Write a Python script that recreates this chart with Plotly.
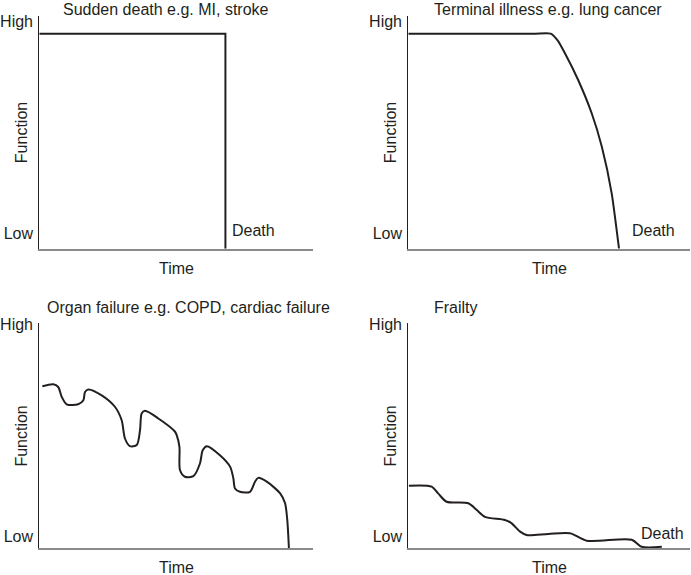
import plotly.graph_objects as go

# panel titles and labels
titles = ["Sudden death e.g. MI, stroke", "Terminal illness e.g. lung cancer",
          "Organ failure e.g. COPD, cardiac failure", "Frailty"]
tick_text = ["Low", "High"]
x_title = "Time"
y_title = "Function"
end_label = "Death"

# trajectories, x = time (0..1), y = function (0..1)
sudden_x = [0.0, 0.68, 0.68]
sudden_y = [0.924, 0.924, 0.0]

terminal_x = [0.0, 0.45, 0.5055, 0.530, 0.556, 0.603, 0.651, 0.687, 0.722, 0.748]
terminal_y = [0.924, 0.924, 0.924, 0.895, 0.840, 0.725, 0.582, 0.438, 0.238, 0.0]

organ_x = [0.011, 0.051, 0.069, 0.082, 0.100, 0.142, 0.161, 0.167, 0.179, 0.228,
           0.277, 0.301, 0.313, 0.331, 0.356, 0.368, 0.374, 0.386, 0.435, 0.496,
           0.502, 0.512, 0.514, 0.532, 0.563, 0.587, 0.597, 0.612, 0.660, 0.697,
           0.709, 0.715, 0.733, 0.770, 0.788, 0.800, 0.831, 0.880, 0.898, 0.906, 0.912]
organ_y = [0.720, 0.729, 0.717, 0.673, 0.640, 0.640, 0.658, 0.695, 0.706, 0.680,
           0.628, 0.569, 0.488, 0.454, 0.459, 0.525, 0.599, 0.611, 0.577, 0.518,
           0.503, 0.451, 0.348, 0.318, 0.321, 0.377, 0.436, 0.454, 0.414, 0.363,
           0.311, 0.266, 0.251, 0.251, 0.296, 0.313, 0.296, 0.244, 0.200, 0.126, 0.0]

frail_x = [0.002, 0.083, 0.106, 0.136, 0.213, 0.243, 0.272, 0.343, 0.367, 0.397,
           0.420, 0.497, 0.574, 0.633, 0.793, 0.828, 0.900]
frail_y = [0.278, 0.274, 0.244, 0.207, 0.200, 0.170, 0.140, 0.126, 0.111, 0.074,
           0.059, 0.064, 0.067, 0.034, 0.038, 0.007, 0.007]

series = [(sudden_x, sudden_y, "linear", 0), (terminal_x, terminal_y, "spline", 0.5),
          (organ_x, organ_y, "spline", 0.8), (frail_x, frail_y, "spline", 0.8)]

W, H = 691, 575
INK = "#231f20"
FONT = "Liberation Sans, Arial, Helvetica, sans-serif"
FS = 16

# panel boxes in pixels: left, right, top, bottom
boxes = [(39.3, 313, 16, 248.7), (408.3, 690, 16, 248.7),
         (39.3, 313, 323.3, 548.3), (408.3, 690, 323.3, 548.3)]
tick_pos = [[0.067, 0.977], [0.067, 0.977], [0.055, 0.995], [0.055, 0.995]]
death_pos = [(0.781, 0.080), (0.869, 0.080), (1.033, 0.068), (0.901, 0.068)]
title_pos = [(166, 9, "center"), (432, 9, "left"), (45, 307, "left"), (432, 307, "left")]

fig = go.Figure()
annotations = []

for i, (xs, ys, shape, smooth) in enumerate(series):
    n = "" if i == 0 else str(i + 1)
    l, r, t, b = boxes[i]
    line = dict(color=INK, width=2, shape=shape)
    if shape == "spline":
        line["smoothing"] = smooth
    fig.add_trace(go.Scatter(x=xs, y=ys, mode="lines", xaxis="x" + n, yaxis="y" + n,
                             line=line, cliponaxis=False, hoverinfo="skip", showlegend=False))
    fig.update_layout({
        "xaxis" + n: dict(domain=[l / W, r / W], range=[0, 1], showgrid=False,
                          zeroline=False, showline=True, linecolor="#8a8a8a", linewidth=1.5,
                          showticklabels=False, fixedrange=True, anchor="y" + n,
                          automargin=False),
        "yaxis" + n: dict(domain=[1 - b / H, 1 - t / H], range=[0, 1], showgrid=False,
                          zeroline=False, showline=True, linecolor=INK, linewidth=1.2,
                          tickvals=tick_pos[i], ticktext=tick_text, ticks="",
                          ticklabelstandoff=2, tickfont=dict(size=FS, color=INK),
                          fixedrange=True, anchor="x" + n, automargin=False),
    })
    tx, ty, anc = title_pos[i]
    annotations.append(dict(text=titles[i], x=tx / W, y=1 - ty / H, xref="paper", yref="paper",
                            xanchor=anc, yanchor="middle", showarrow=False,
                            font=dict(size=FS, color=INK)))
    annotations.append(dict(text=x_title, x=(l + r) / 2 / W, y=1 - (b + 19.5) / H,
                            xref="paper", yref="paper", xanchor="center", yanchor="middle",
                            showarrow=False, font=dict(size=FS, color=INK)))
    annotations.append(dict(text=y_title, x=(l - 17.5) / W, y=1 - (t + b) / 2 / H,
                            xref="paper", yref="paper", xanchor="center", yanchor="middle",
                            textangle=-90, showarrow=False, font=dict(size=FS, color=INK)))
    dx, dy = death_pos[i]
    annotations.append(dict(text=end_label, x=dx, y=dy, xref="x" + n, yref="y" + n,
                            xanchor="center", yanchor="middle", showarrow=False,
                            font=dict(size=FS, color=INK)))

fig.update_layout(width=W, height=H, margin=dict(l=0, r=0, t=0, b=0, autoexpand=False),
                  paper_bgcolor="white", plot_bgcolor="white",
                  font=dict(family=FONT, size=FS, color=INK),
                  annotations=annotations)

# drop the browser's default 8px body margin so the figure sits at the window corner
fig.write_html("out.html", config={"displayModeBar": False},
               post_script="document.body.style.margin='0';")
